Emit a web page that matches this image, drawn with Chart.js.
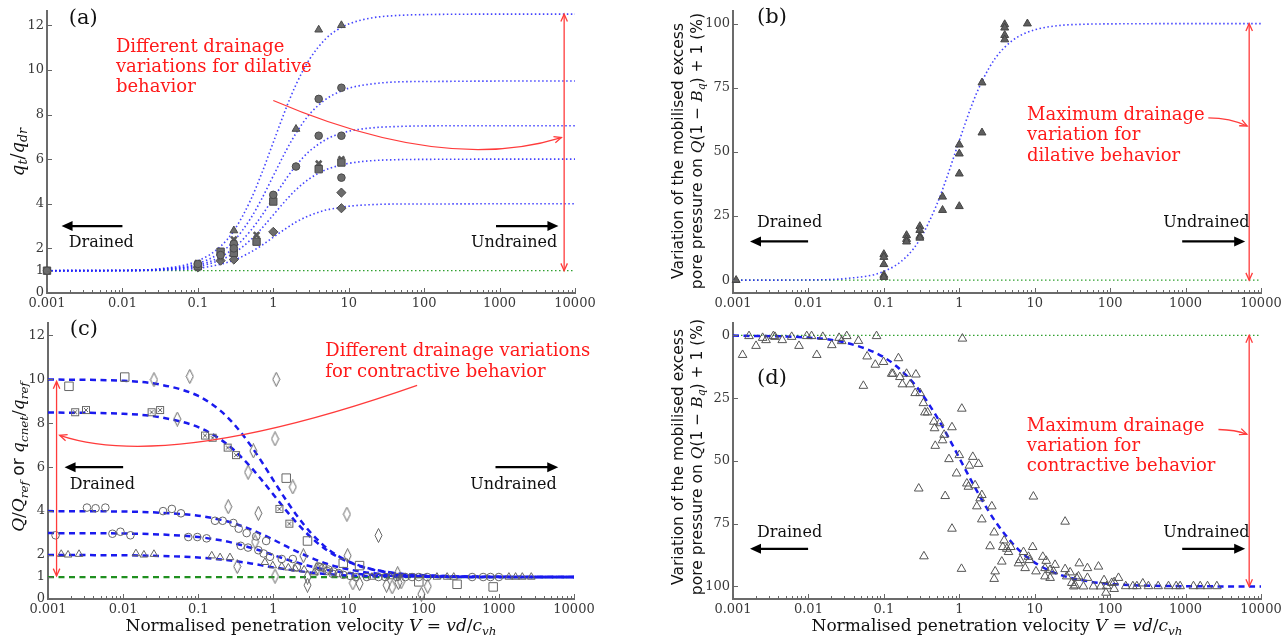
<!DOCTYPE html>
<html>
<head>
<meta charset="utf-8">
<script src="https://cdn.jsdelivr.net/npm/chart.js@4.4.1/dist/chart.umd.min.js"></script>
<style>
  body { margin: 0; background: #fff; width: 1287px; height: 639px; position: relative; overflow: hidden; font-family: 'DejaVu Serif', serif; color: #111; }
  canvas { position: absolute; }
  .lab { position: absolute; white-space: nowrap; transform: translate(-50%, -50%); }
  .rot { transform: translate(-50%, -50%) rotate(-90deg); }
  .sans { font-family: 'DejaVu Sans', sans-serif; }
  .lab i { font-family: 'DejaVu Serif', serif; }
  sub { font-size: 70%; vertical-align: -0.3em; line-height: 0; }
</style>
</head>
<body>
<canvas id="pa" width="600" height="312" style="left:0;top:0"></canvas>
<canvas id="pb" width="637" height="312" style="left:650px;top:0"></canvas>
<canvas id="pc" width="600" height="327" style="left:0;top:312px"></canvas>
<canvas id="pd" width="637" height="327" style="left:650px;top:312px"></canvas>

<div class="lab rot" style="left:17px;top:152px;font-size:18px"><i>q</i><sub><i>t</i></sub>/<i>q</i><sub><i>dr</i></sub></div>
<div class="lab rot" style="left:18px;top:457px;font-size:17px"><i>Q</i>/<i>Q</i><sub><i>ref</i></sub> <span class="sans">or</span> <i>q</i><sub><i>cnet</i></sub>/<i>q</i><sub><i>ref</i></sub></div>
<div class="lab rot sans" style="left:688px;top:151px;font-size:15.5px;line-height:19px;text-align:center">Variation of the mobilised excess<br>pore pressure on <i>Q</i>(1 − <i>B</i><sub><i>q</i></sub>) + 1 (%)</div>
<div class="lab rot sans" style="left:688px;top:457px;font-size:15.5px;line-height:19px;text-align:center">Variation of the mobilised excess<br>pore pressure on <i>Q</i>(1 − <i>B</i><sub><i>q</i></sub>) + 1 (%)</div>
<div class="lab" style="left:311px;top:625px;font-size:17px">Normalised penetration velocity <i>V</i> = <i>vd</i>/<i>c</i><sub><i>vh</i></sub></div>
<div class="lab" style="left:997px;top:625px;font-size:17px">Normalised penetration velocity <i>V</i> = <i>vd</i>/<i>c</i><sub><i>vh</i></sub></div>

<script>
// ---- axes ----
const X_TICKS = [0.001, 0.01, 0.1, 1, 10, 100, 1000, 10000];
const X_TICK_LABELS = ['0.001', '0.01', '0.1', '1', '10', '100', '1000', '10000'];
const Y_TICKS_RATIO = [0, 1, 2, 4, 6, 8, 10, 12];
const Y_TICKS_PCT = [0, 25, 50, 75, 100];

// velocities at which the fitted curves were read
const CURVE_V = [0.001, 0.01, 0.03, 0.1, 0.2, 0.3, 0.5, 0.7, 1, 1.5, 2, 3, 5, 7, 10, 20, 50, 100, 1000, 10000];

// ---- (a) dilative, q_t/q_dr ----
const A_FIT_125 = [1.0, 1.02, 1.08, 1.44, 2.09, 2.79, 4.16, 5.35, 6.75, 8.34, 9.34, 10.46, 11.41, 11.79, 12.06, 12.33, 12.45, 12.48, 12.5, 12.5];
const A_FIT_95 = [1.0, 1.01, 1.06, 1.32, 1.81, 2.33, 3.34, 4.21, 5.25, 6.42, 7.16, 8.0, 8.69, 8.97, 9.18, 9.37, 9.47, 9.48, 9.5, 9.5];
const A_FIT_75 = [1.0, 1.01, 1.05, 1.25, 1.62, 2.01, 2.79, 3.46, 4.25, 5.15, 5.71, 6.35, 6.88, 7.1, 7.25, 7.4, 7.47, 7.49, 7.5, 7.5];
const A_FIT_60 = [1.0, 1.01, 1.04, 1.19, 1.48, 1.78, 2.38, 2.89, 3.5, 4.19, 4.63, 5.12, 5.53, 5.69, 5.81, 5.93, 5.98, 5.99, 6.0, 6.0];
const A_FIT_40 = [1.0, 1.0, 1.02, 1.11, 1.29, 1.47, 1.83, 2.13, 2.5, 2.91, 3.18, 3.47, 3.72, 3.81, 3.89, 3.96, 3.99, 3.99, 4.0, 4.0];
const A_DRAINED = 1;
const A_TRI_V = [0.3, 2, 4, 8];
const A_TRI_Q = [2.8, 7.35, 11.8, 12.0];
const A_CIR_V = [0.001, 0.1, 0.2, 0.3, 0.3, 1, 2, 4, 4, 8, 8, 8];
const A_CIR_Q = [1.0, 1.3, 1.7, 2.2, 2.0, 4.4, 5.67, 8.7, 7.05, 9.2, 7.05, 5.17];
const A_SQ_V = [0.001, 0.1, 0.2, 0.3, 0.6, 1, 4, 8];
const A_SQ_Q = [1.0, 1.2, 1.85, 1.8, 2.3, 4.1, 5.55, 5.85];
const A_X_V = [0.1, 0.2, 0.3, 0.6, 1, 4, 8];
const A_X_Q = [1.35, 1.6, 2.4, 2.6, 4.25, 5.8, 6.0];
const A_DIA_V = [0.1, 0.2, 0.3, 1, 8, 8];
const A_DIA_Q = [1.15, 1.45, 1.5, 2.74, 4.5, 3.8];

// ---- (b) dilative, pore pressure % ----
const B_FIT = [0, 0.1, 0.6, 3.4, 9.2, 15.9, 29.3, 40.9, 54.4, 69.0, 77.5, 86.5, 93.3, 95.9, 97.6, 99.2, 99.8, 99.9, 100, 100];
const B_V = [0.0011, 0.1, 0.1, 0.1, 0.1, 0.1, 0.2, 0.2, 0.2, 0.3, 0.3, 0.3, 0.3, 0.6, 0.6, 1, 1, 1, 1, 2, 2, 4, 4, 4, 4, 8];
const B_P = [0, 10.1, 9.0, 6.2, 2.0, 1.2, 17.5, 16, 15, 21, 19.5, 17.2, 16.5, 32.5, 27.3, 52.8, 49.3, 41.5, 28.8, 77, 57.5, 99.7, 98.4, 95.5, 93.8, 100];

// ---- (c) contractive, Q/Q_ref ----
const C_FIT_10 = [9.99, 9.93, 9.77, 9.24, 8.55, 7.95, 6.98, 6.24, 5.4, 4.46, 3.85, 3.09, 2.35, 1.99, 1.71, 1.37, 1.15, 1.08, 1.01, 1.0];
const C_FIT_85 = [8.49, 8.43, 8.28, 7.82, 7.25, 6.77, 6.0, 5.41, 4.75, 4.0, 3.5, 2.88, 2.25, 1.94, 1.68, 1.35, 1.14, 1.07, 1.01, 1.0];
const C_FIT_4 = [4.0, 3.98, 3.93, 3.79, 3.6, 3.44, 3.17, 2.95, 2.7, 2.39, 2.18, 1.91, 1.62, 1.47, 1.35, 1.18, 1.08, 1.04, 1.0, 1.0];
const C_FIT_3 = [3.0, 2.98, 2.94, 2.82, 2.67, 2.54, 2.33, 2.18, 2.0, 1.8, 1.67, 1.5, 1.33, 1.25, 1.18, 1.1, 1.04, 1.02, 1.0, 1.0];
const C_FIT_2 = [2.0, 1.99, 1.96, 1.89, 1.8, 1.73, 1.62, 1.53, 1.44, 1.35, 1.29, 1.21, 1.14, 1.1, 1.07, 1.04, 1.02, 1.01, 1.0, 1.0];
const C_DRAINED = 1;
const C_SQ_V = [0.0019, 0.0105, 1.48, 2.84, 8.5, 14, 86, 278, 840];
const C_SQ_Q = [9.68, 10.1, 5.5, 2.64, 1.63, 1.52, 0.78, 0.67, 0.55];
const C_DIA_V = [0.0257, 0.077, 0.0525, 1.09, 1.05, 0.54, 0.46, 1.81, 0.25, 0.63, 0.57, 0.33, 1.05, 2.5, 2.84, 2.84, 3.8, 9.5, 9.7, 11.4, 14, 25, 32, 38, 45, 46, 50, 93, 113];
const C_DIA_Q = [9.98, 10.13, 8.19, 10.0, 7.29, 6.74, 5.77, 5.1, 4.2, 3.9, 2.6, 1.48, 1.04, 1.97, 1.0, 0.63, 1.37, 3.86, 1.97, 0.73, 0.7, 2.89, 0.63, 0.55, 1.15, 0.75, 0.78, 0.22, 0.58];
const C_BOXX_V = [0.0023, 0.0032, 0.0239, 0.031, 0.123, 0.155, 0.246, 0.318, 1.2, 1.63];
const C_BOXX_Q = [8.5, 8.6, 8.5, 8.6, 7.44, 7.34, 6.89, 6.55, 4.1, 3.43];
const C_CIR_V = [0.0033, 0.0043, 0.0058, 0.034, 0.0445, 0.0588, 0.167, 0.211, 0.293, 0.345, 0.44, 0.59, 0.8, 1.29,
  0.00126, 0.0072, 0.0092, 0.0125, 0.0736, 0.097, 0.129, 0.367, 0.46, 0.63, 0.74, 0.9, 1.81, 2.05,
  4.0, 4.2, 4.6, 5.2, 5.4, 6.1, 6.3, 7.4, 8.5, 10.5, 12.5, 17.5, 25, 30.8, 44, 57, 70, 86, 111, 441, 618, 774, 1000];
const C_CIR_Q = [4.16, 4.13, 4.16, 4.0, 4.1, 3.9, 3.56, 3.56, 3.46, 3.2, 3.0, 2.85, 2.64, 1.82,
  2.9, 2.97, 3.06, 2.9, 2.82, 2.82, 2.76, 2.42, 2.34, 2.22, 2.07, 1.92, 1.82, 1.45,
  1.48, 1.45, 1.42, 1.27, 1.34, 1.15, 1.25, 1.18, 1.1, 1.05, 1.0, 1.0, 1.0, 1.0, 1.0, 1.0, 1.0, 1.0, 1.0, 1.0, 1.0, 1.0, 1.0];
const C_TRI_V = [0.0015, 0.00185, 0.00259, 0.0148, 0.0189, 0.0257, 0.151, 0.195, 0.264, 0.77, 0.98, 1.29, 1.58, 1.95, 2.56, 3.5, 20.5, 36, 150, 205, 251, 1360, 1670, 2050, 2700];
const C_TRI_Q = [2.04, 2.01, 2.04, 2.07, 2.01, 2.04, 1.97, 1.89, 1.89, 1.67, 1.52, 1.48, 1.42, 1.37, 1.33, 1.2, 1.0, 1.02, 1.0, 1.0, 1.0, 1.0, 1.0, 1.0, 1.0];

// ---- (d) contractive, pore pressure % ----
const D_FIT = [0.1, 0.9, 2.8, 8.7, 16, 22.2, 32.3, 40, 48.8, 58.8, 65.6, 74.1, 82.6, 87, 90.5, 95, 97.9, 99, 99.9, 100];
const D_V = [0.00134, 0.00163, 0.00202, 0.00247, 0.00274, 0.00343, 0.0036, 0.0045, 0.006, 0.0075, 0.0095, 0.011, 0.0129, 0.0155,
  0.0204, 0.0255, 0.0276, 0.0322, 0.046, 0.0535, 0.06, 0.077, 0.08, 0.099, 0.127, 0.132, 0.156, 0.163, 0.176, 0.2, 0.223,
  0.26, 0.266, 0.29, 0.302, 0.334, 0.34, 0.35, 0.38, 0.46, 0.47, 0.48, 0.55, 0.6, 0.63, 0.65, 0.73, 0.8, 0.8, 0.92, 1.0,
  1.07, 1.08, 1.1, 1.26, 1.32, 1.36, 1.51, 1.62, 1.71, 1.8, 1.89, 1.99, 1.99, 2.56, 2.7, 2.9, 2.99, 2.9, 3.66, 3.77, 3.93,
  4.27, 4.49, 4.82, 6.09, 6.4, 7.1, 7.46, 8.27, 8.5, 9.4, 9.6, 10.4, 12.8, 13.7, 14.2, 13.7, 16, 16, 17.7, 18.6, 25.3, 25.3,
  26.6, 29.5, 31, 33, 34.4, 36, 38, 39, 44.3, 50, 50, 60, 70, 75, 83, 90, 88, 105, 113, 113, 129, 161, 200, 226, 271, 322,
  433, 594, 750, 847, 1273, 1563, 1955, 2600];
const D_P = [7.8, 0.3, 4.2, 1.0, 1.9, 0.3, 0.6, 1.9, 0.6, 4.2, 0.3, 0.3, 7.8, 0.6,
  3.9, 1.0, 2.3, 0.3, 2.2, 20.1, 8.4, 11.7, 0.3, 10.6, 15.3, 15.3, 9.1, 16.6, 19.5, 15.3, 19.5,
  23, 15.6, 61, 23, 27, 88, 30.7, 30.7, 34.4, 37, 44, 35, 41.8, 39.6, 64, 49.3, 36.6, 77, 55, 47.7,
  93, 29.2, 1.3, 59, 60.3, 51.9, 48.4, 59.7, 68.1, 51.2, 64.9, 63.6, 73.3, 84, 68.1, 78.5, 94, 97, 90.1, 84.3, 81.7,
  85, 86.3, 84.3, 90.8, 89.5, 86.3, 92.7, 88.2, 89.5, 84.3, 64.2, 94, 88.2, 92.7, 89.8, 96, 93.4, 96.6, 94, 91.4, 74.2, 93.1,
  96, 94.4, 98.6, 100, 99.6, 96.6, 96, 90.8, 100, 92.7, 96.6, 100, 92.1, 100, 97.5, 99.9, 102.5, 98.6, 98.3, 101, 96.6, 99.9, 99.9, 99.9, 98.8, 99.9,
  99.9, 99.9, 99.9, 99.9, 99.9, 99.9, 99.9, 99.9];
const D_UNDRAINED_GAP = 0;

// ---- styles ----
const RED = '#ff3b3b';
const RED_TEXT = '#ff1a1a';
const BLUE_DOT = 'rgba(35,35,255,0.85)';
const BLUE_DASH = '#1a1aee';
const GREEN = '#2fa02f';
const SERIF = '"DejaVu Serif", serif';

const pts = (xs, ys) => xs.map((x, i) => ({ x, y: ys[i] }));

function sprite(w, h, draw) {
  const c = document.createElement('canvas');
  c.width = w; c.height = h;
  const g = c.getContext('2d');
  g.strokeStyle = '#666'; g.lineWidth = 1;
  draw(g, w, h);
  return c;
}
const THIN_DIAMOND = sprite(9, 15, (g, w, h) => {
  g.beginPath();
  g.moveTo(w / 2, 0.5); g.lineTo(w - 1, h / 2); g.lineTo(w / 2, h - 0.5); g.lineTo(1, h / 2);
  g.closePath(); g.stroke();
});
const BOX_X = sprite(10, 10, (g, w, h) => {
  g.strokeRect(1.5, 1.5, w - 3, h - 3);
  g.beginPath();
  g.moveTo(3, 3); g.lineTo(w - 3, h - 3); g.moveTo(w - 3, 3); g.lineTo(3, h - 3);
  g.stroke();
});

function curve(ys, color, dash, width) {
  return { data: pts(CURVE_V, ys), showLine: true, pointRadius: 0, borderColor: color, borderWidth: width,
           borderDash: dash, cubicInterpolationMode: 'monotone', fill: false, order: 2 };
}
function level(v, color, dash, width) {
  return { data: pts([0.001, 10000], [v, v]), showLine: true, pointRadius: 0, borderColor: color,
           borderWidth: width, borderDash: dash, fill: false, order: 3 };
}
function marks(xs, ys, style, r, fill, edge, bw) {
  return { data: pts(xs, ys), showLine: false, pointStyle: style, pointRadius: r, backgroundColor: fill,
           borderColor: edge, borderWidth: bw, order: 1, clip: 10 };
}

// log ticks: every 1..9 x 10^k, powers of ten are major
function xTickList() {
  const out = [];
  for (let k = 0; k < X_TICKS.length; k++) {
    out.push({ value: X_TICKS[k], major: true });
    if (k < X_TICKS.length - 1) for (let m = 2; m <= 9; m++) out.push({ value: m * X_TICKS[k], major: false });
  }
  return out;
}

// short tick marks pointing into the plot
const inwardTicks = {
  id: 'inwardTicks',
  afterDraw(chart) {
    const { ctx, chartArea: a, scales: { x, y } } = chart;
    ctx.save();
    ctx.strokeStyle = '#666';
    ctx.lineWidth = 1;
    ctx.beginPath();
    for (const t of x.ticks) {
      const px = Math.round(x.getPixelForValue(t.value)) + 0.5;
      ctx.moveTo(px, a.bottom); ctx.lineTo(px, a.bottom - (t.major ? 5 : 3));
    }
    for (const t of y.ticks) {
      const py = Math.round(y.getPixelForValue(t.value)) + 0.5;
      ctx.moveTo(a.left, py); ctx.lineTo(a.left + 5, py);
    }
    ctx.stroke();
    ctx.restore();
  }
};

function openHead(ctx, x, y, ang, len) {
  ctx.beginPath();
  ctx.moveTo(x - len * Math.cos(ang - 0.42), y - len * Math.sin(ang - 0.42));
  ctx.lineTo(x, y);
  ctx.lineTo(x - len * Math.cos(ang + 0.42), y - len * Math.sin(ang + 0.42));
  ctx.stroke();
}
function solidHead(ctx, x, y, ang, len, half) {
  const bx = x - len * Math.cos(ang), by = y - len * Math.sin(ang);
  ctx.beginPath();
  ctx.moveTo(x, y);
  ctx.lineTo(bx + half * Math.sin(ang), by - half * Math.cos(ang));
  ctx.lineTo(bx - half * Math.sin(ang), by + half * Math.cos(ang));
  ctx.closePath();
  ctx.fill();
}

// text and arrows placed in data coordinates
function notes(spec) {
  return {
    id: 'notes',
    afterDatasetsDraw(chart) {
      const { ctx, scales: { x, y } } = chart;
      const P = p => [x.getPixelForValue(p[0]), y.getPixelForValue(p[1])];
      ctx.save();
      for (const a of spec.arrows) {
        const [x0, y0] = P(a.from), [x1, y1] = P(a.to);
        ctx.strokeStyle = a.color; ctx.fillStyle = a.color; ctx.lineWidth = a.width;
        if (a.head === 'solid') {
          const ang = Math.atan2(y1 - y0, x1 - x0);
          ctx.beginPath();
          ctx.moveTo(x0, y0); ctx.lineTo(x1 - 9 * Math.cos(ang), y1 - 9 * Math.sin(ang));
          ctx.stroke();
          solidHead(ctx, x1, y1, ang, 11, 5);
          continue;
        }
        ctx.beginPath();
        ctx.moveTo(x0, y0);
        let ang;
        if (a.ctrl) {
          const [cx, cy] = P(a.ctrl);
          ctx.quadraticCurveTo(cx, cy, x1, y1);
          ang = Math.atan2(y1 - cy, x1 - cx);
        } else {
          ctx.lineTo(x1, y1);
          ang = Math.atan2(y1 - y0, x1 - x0);
        }
        ctx.stroke();
        openHead(ctx, x1, y1, ang, 8);
        if (a.both) openHead(ctx, x0, y0, ang + Math.PI, 8);
      }
      ctx.textAlign = 'left';
      ctx.textBaseline = 'middle';
      for (const t of spec.texts) {
        const [x0, y0] = P(t.at);
        ctx.font = t.font; ctx.fillStyle = t.color;
        t.lines.forEach((s, i) => ctx.fillText(s, x0, y0 + i * (t.lh || 0)));
      }
      ctx.restore();
    }
  };
}

function panel(id, o) {
  const tickFont = { family: SERIF, size: 13 };
  return new Chart(document.getElementById(id), {
    type: 'scatter',
    data: { datasets: o.datasets },
    options: {
      responsive: false,
      animation: false,
      events: [],
      layout: { padding: o.pad },
      plugins: { legend: { display: false }, tooltip: { enabled: false } },
      scales: {
        x: {
          type: 'logarithmic', min: 0.001, max: 10000, bounds: 'data',
          afterBuildTicks: s => { s.ticks = xTickList(); },
          afterFit: s => { s.height = o.xh; },
          ticks: {
            autoSkip: false, maxRotation: 0, padding: 3, color: '#3a3a3a', font: tickFont,
            callback: v => { const i = X_TICKS.indexOf(v); return i >= 0 ? X_TICK_LABELS[i] : ''; }
          },
          grid: { display: false, drawTicks: false },
          border: { display: true, color: '#6b6b6b', width: 2 }
        },
        y: {
          type: 'linear', min: o.ymin, max: o.ymax, reverse: !!o.reverse, bounds: 'data',
          afterBuildTicks: s => { s.ticks = o.yticks.map(v => ({ value: v })); },
          afterFit: s => { s.width = o.yw; },
          ticks: { padding: 3, color: '#3a3a3a', font: tickFont },
          grid: { display: false, drawTicks: false },
          border: { display: true, color: '#6b6b6b', width: 2 }
        }
      }
    },
    plugins: [inwardTicks, notes(o.notes)]
  });
}

const label = (at, s, size) => ({ at, lines: [s], font: size + 'px ' + SERIF, color: '#111' });
const redText = (at, lines, lh) => ({ at, lines, lh, font: '18px ' + SERIF, color: RED_TEXT });
const blackArrow = (from, to) => ({ from, to, color: '#000', width: 2.2, head: 'solid' });

// (a)
panel('pa', {
  pad: { left: 0, top: 10, right: 25, bottom: 0 }, yw: 47, xh: 19,
  ymin: 0, ymax: 12.65, yticks: Y_TICKS_RATIO,
  datasets: [
    marks(A_TRI_V, A_TRI_Q, 'triangle', 4.5, '#6c6c6c', '#4a4a4a', 1),
    marks(A_CIR_V, A_CIR_Q, 'circle', 3.8, '#6c6c6c', '#4a4a4a', 1),
    marks(A_SQ_V, A_SQ_Q, 'rect', 5.2, '#6c6c6c', '#4a4a4a', 1),
    marks(A_X_V, A_X_Q, 'crossRot', 4, '#6c6c6c', '#5a5a5a', 2.6),
    marks(A_DIA_V, A_DIA_Q, 'rectRot', 4.6, '#6c6c6c', '#4a4a4a', 1),
    curve(A_FIT_125, BLUE_DOT, [1.5, 2.5], 1.6),
    curve(A_FIT_95, BLUE_DOT, [1.5, 2.5], 1.6),
    curve(A_FIT_75, BLUE_DOT, [1.5, 2.5], 1.6),
    curve(A_FIT_60, BLUE_DOT, [1.5, 2.5], 1.6),
    curve(A_FIT_40, BLUE_DOT, [1.5, 2.5], 1.6),
    level(A_DRAINED, GREEN, [1.5, 2.5], 1.3)
  ],
  notes: {
    texts: [
      label([0.00194, 12.29], '(a)', 21),
      redText([0.0082, 11.0], ['Different drainage', 'variations for dilative', 'behavior'], 20),
      label([0.00194, 2.23], 'Drained', 16),
      label([417, 2.23], 'Undrained', 16)
    ],
    arrows: [
      { from: [1.0, 8.63], ctrl: [185, 5.34], to: [6600, 6.97], color: RED, width: 1.3 },
      { from: [7180, 1.0], to: [7180, 12.5], color: RED, width: 1.3, both: true },
      blackArrow([0.01, 3], [0.00156, 3]),
      blackArrow([897, 3], [6030, 3])
    ]
  }
});

// (b)
panel('pb', {
  pad: { left: 0, top: 10, right: 26, bottom: 0 }, yw: 83, xh: 19,
  ymin: -5, ymax: 105, yticks: Y_TICKS_PCT,
  datasets: [
    marks(B_V, B_P, 'triangle', 4.6, '#5e5e5e', '#444', 1),
    curve(B_FIT, BLUE_DOT, [1.5, 2.5], 1.6),
    level(0, GREEN, [1.5, 2.5], 1.3)
  ],
  notes: {
    texts: [
      label([0.00208, 102.4], '(b)', 21),
      label([0.00208, 22.5], 'Drained', 16),
      label([505, 22.5], 'Undrained', 16),
      redText([7.9, 64.4], ['Maximum drainage', 'variation for', 'dilative behavior'], 20.5)
    ],
    arrows: [
      { from: [2000, 63.3], ctrl: [3900, 63.3], to: [6560, 60.1], color: RED, width: 1.3 },
      { from: [6970, 0], to: [6970, 100], color: RED, width: 1.3, both: true },
      blackArrow([0.0099, 15.1], [0.00168, 15.1]),
      blackArrow([902, 15.1], [6170, 15.1])
    ]
  }
});

// (c)
panel('pc', {
  pad: { left: 0, top: 6, right: 26, bottom: 0 }, yw: 48, xh: 40,
  ymin: 0, ymax: 12.57, yticks: Y_TICKS_RATIO,
  datasets: [
    marks(C_SQ_V, C_SQ_Q, 'rect', 6, 'rgba(255,255,255,0)', '#666', 1),
    marks(C_DIA_V, C_DIA_Q, THIN_DIAMOND, 4, 'rgba(255,255,255,0)', '#666', 1),
    marks(C_BOXX_V, C_BOXX_Q, BOX_X, 4, 'rgba(255,255,255,0)', '#666', 1),
    marks(C_CIR_V, C_CIR_Q, 'circle', 3.8, 'rgba(255,255,255,0)', '#666', 1),
    marks(C_TRI_V, C_TRI_Q, 'triangle', 4.4, 'rgba(255,255,255,0)', '#666', 1),
    curve(C_FIT_10, BLUE_DASH, [6, 4.5], 2.5),
    curve(C_FIT_85, BLUE_DASH, [6, 4.5], 2.5),
    curve(C_FIT_4, BLUE_DASH, [6, 4.5], 2.5),
    curve(C_FIT_3, BLUE_DASH, [6, 4.5], 2.5),
    curve(C_FIT_2, BLUE_DASH, [6, 4.5], 2.5),
    level(C_DRAINED, '#1f8f1f', [6, 4.5], 2.2)
  ],
  notes: {
    texts: [
      label([0.00195, 12.26], '(c)', 21),
      redText([4.9, 11.29], ['Different drainage variations', 'for contractive behavior'], 21),
      label([0.00195, 5.2], 'Drained', 16),
      label([417, 5.2], 'Undrained', 16)
    ],
    arrows: [
      { from: [81.7, 9.72], ctrl: [0.0422, 5.77], to: [0.00143, 7.45], color: RED, width: 1.3 },
      { from: [0.0013, 1.05], to: [0.0013, 9.9], color: RED, width: 1.3, both: true },
      blackArrow([0.01, 6], [0.00166, 6]),
      blackArrow([902, 6], [6170, 6])
    ]
  }
});

// (d)
panel('pd', {
  pad: { left: 0, top: 6, right: 26, bottom: 0 }, yw: 83, xh: 40,
  ymin: -5, ymax: 105, reverse: true, yticks: Y_TICKS_PCT,
  datasets: [
    marks(D_V, D_P, 'triangle', 5, 'rgba(255,255,255,0)', '#555', 1),
    curve(D_FIT, BLUE_DASH, [6, 4.5], 2.5),
    level(D_UNDRAINED_GAP, GREEN, [1.5, 2.5], 1.3)
  ],
  notes: {
    texts: [
      label([0.00208, 17.3], '(d)', 21),
      label([0.00208, 78.5], 'Drained', 16),
      label([505, 78.5], 'Undrained', 16),
      redText([7.85, 36.1], ['Maximum drainage', 'variation for', 'contractive behavior'], 20)
    ],
    arrows: [
      { from: [2730, 37.5], ctrl: [4550, 37.6], to: [6500, 39.4], color: RED, width: 1.3 },
      { from: [6970, 0], to: [6970, 100], color: RED, width: 1.3, both: true },
      blackArrow([0.0099, 85], [0.00168, 85]),
      blackArrow([902, 85], [6170, 85])
    ]
  }
});
</script>
</body>
</html>
